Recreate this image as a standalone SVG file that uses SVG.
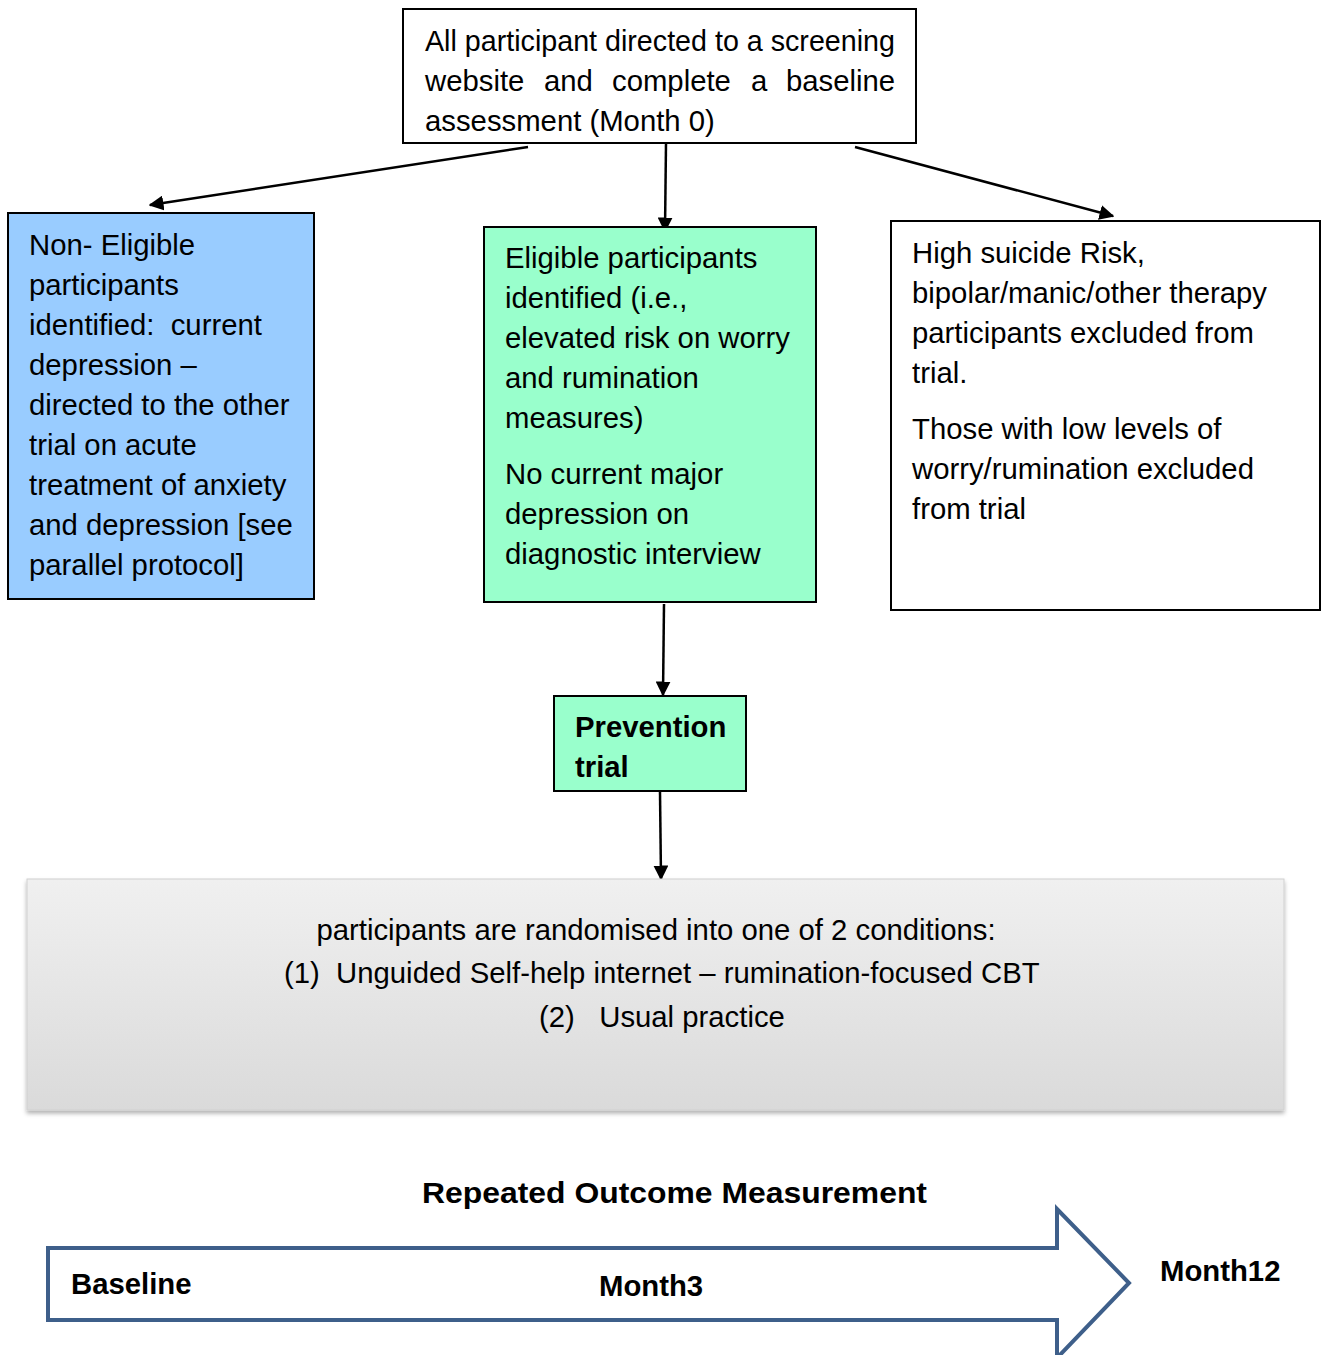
<svg xmlns="http://www.w3.org/2000/svg" width="1324" height="1355" viewBox="0 0 1324 1355">
<style>
.t{font-family:"Liberation Sans",Arial,sans-serif;font-size:29.3px;fill:#000}
.b{font-weight:bold}
.box{stroke:#000;stroke-width:2}
.con{stroke:#000;stroke-width:2.5;fill:none;marker-end:url(#ah)}
</style>
<defs>
<marker id="ah" viewBox="0 0 10 10" refX="9" refY="5" markerWidth="6" markerHeight="6" markerUnits="strokeWidth" orient="auto">
<path d="M0,0 L10,5 L0,10 z" fill="#000"/>
</marker>
<linearGradient id="gg" x1="0" y1="0" x2="0" y2="1">
<stop offset="0" stop-color="#F0F0F0"/>
<stop offset="1" stop-color="#DADADA"/>
</linearGradient>
<filter id="sh" x="-5%" y="-5%" width="110%" height="115%">
<feDropShadow dx="0" dy="3" stdDeviation="2" flood-color="#000" flood-opacity="0.3"/>
</filter>
</defs>
<rect width="1324" height="1355" fill="#fff"/>
<g id="connectors">
<line class="con" x1="528" y1="147" x2="150" y2="205"/>
<line class="con" x1="666" y1="143" x2="665" y2="231"/>
<line class="con" x1="855" y1="147" x2="1113" y2="216"/>
<line class="con" x1="664" y1="604" x2="663" y2="695"/>
<line class="con" x1="660" y1="792" x2="661" y2="879"/>
</g>
<g id="node-top">
<rect class="box" x="403" y="9" width="513" height="134" fill="#fff"/>
<text class="t" x="425" y="51" textLength="470" lengthAdjust="spacingAndGlyphs">All participant directed to a screening</text>
<text class="t" y="91"><tspan x="425">website</tspan><tspan x="544">and</tspan><tspan x="612">complete</tspan><tspan x="751">a</tspan><tspan x="786">baseline</tspan></text>
<text class="t" x="425" y="131">assessment (Month 0)</text>
</g>
<g id="node-noneligible">
<rect class="box" x="8" y="213" width="306" height="386" fill="#99CCFF"/>
<text class="t" x="29" y="255">Non- Eligible</text>
<text class="t" x="29" y="295">participants</text>
<text class="t" x="29" y="335" xml:space="preserve">identified:  current</text>
<text class="t" x="29" y="375">depression –</text>
<text class="t" x="29" y="415">directed to the other</text>
<text class="t" x="29" y="455">trial on acute</text>
<text class="t" x="29" y="495">treatment of anxiety</text>
<text class="t" x="29" y="535">and depression [see</text>
<text class="t" x="29" y="575">parallel protocol]</text>
</g>
<g id="node-eligible">
<rect class="box" x="484" y="227" width="332" height="375" fill="#99FFCC"/>
<text class="t" x="505" y="268">Eligible participants</text>
<text class="t" x="505" y="308">identified (i.e.,</text>
<text class="t" x="505" y="348">elevated risk on worry</text>
<text class="t" x="505" y="388">and rumination</text>
<text class="t" x="505" y="428">measures)</text>
<text class="t" x="505" y="484">No current major</text>
<text class="t" x="505" y="524">depression on</text>
<text class="t" x="505" y="564">diagnostic interview</text>
</g>
<g id="node-excluded">
<rect class="box" x="891" y="221" width="429" height="389" fill="#fff"/>
<text class="t" x="912" y="263">High suicide Risk,</text>
<text class="t" x="912" y="303">bipolar/manic/other therapy</text>
<text class="t" x="912" y="343">participants excluded from</text>
<text class="t" x="912" y="383">trial.</text>
<text class="t" x="912" y="439">Those with low levels of</text>
<text class="t" x="912" y="479">worry/rumination excluded</text>
<text class="t" x="912" y="519">from trial</text>
</g>
<g id="node-prevention">
<rect class="box" x="554" y="696" width="192" height="95" fill="#99FFCC" stroke-width="1.5"/>
<text class="t b" x="575" y="737">Prevention</text>
<text class="t b" x="575" y="777">trial</text>
</g>
<g id="node-randomised">
<rect x="27" y="879" width="1257" height="231" fill="url(#gg)" stroke="#D0D0D0" stroke-width="1" filter="url(#sh)"/>
<text class="t" x="656" y="940" text-anchor="middle">participants are randomised into one of 2 conditions:</text>
<text class="t" x="284" y="983" xml:space="preserve">(1)  Unguided Self-help internet – rumination-focused CBT</text>
<text class="t" x="539" y="1027" xml:space="preserve">(2)   Usual practice</text>
</g>
<g id="timeline">
<text class="t b" x="422" y="1203" font-size="31" textLength="505" lengthAdjust="spacingAndGlyphs">Repeated Outcome Measurement</text>
<path d="M48,1248 L1057,1248 L1057,1209 L1129,1283 L1057,1358 L1057,1320 L48,1320 Z" fill="#fff" stroke="#3E5F8A" stroke-width="4"/>
<text class="t b" x="71" y="1294">Baseline</text>
<text class="t b" x="599" y="1296">Month3</text>
<text class="t b" x="1160" y="1281">Month12</text>
</g>
</svg>
